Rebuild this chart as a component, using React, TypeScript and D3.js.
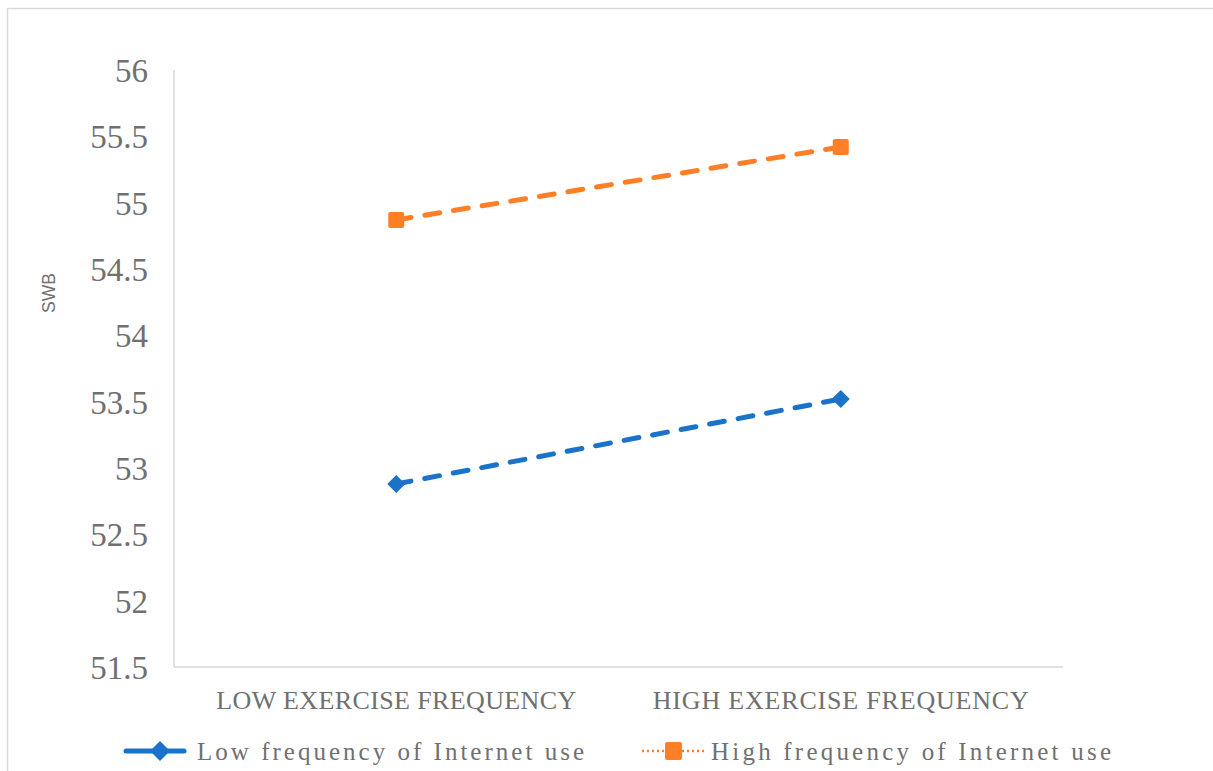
import React from "react";
import * as d3 from "d3";

const categories = ["LOW EXERCISE FREQUENCY", "HIGH EXERCISE FREQUENCY"];
const lowInternet = [52.88, 53.52];
const highInternet = [54.87, 55.42];
const yTicks = [51.5, 52, 52.5, 53, 53.5, 54, 54.5, 55, 55.5, 56];
const tickLabels = ["51.5", "52", "52.5", "53", "53.5", "54", "54.5", "55", "55.5", "56"];
const seriesNames = ["Low frequency of Internet use", "High frequency of Internet use"];

const W = 1213;
const H = 771;
const left = 174;
const right = 1063;
const top = 70;
const bottom = 667;

const BLUE = "#1a72c9";
const ORANGE = "#ff7f27";
const GRAY = "#707070";
const FONT = "'Liberation Serif', 'DejaVu Serif', serif";

export default function App() {
  const x = d3.scaleBand<string>().domain(categories).range([left, right]);
  const y = d3.scaleLinear().domain([51.5, 56]).range([bottom, top]);
  const cx = (c: string) => (x(c) as number) + x.bandwidth() / 2;

  const line = d3
    .line<number>()
    .x((_, i) => cx(categories[i]))
    .y((d) => y(d));

  const diamond = (px: number, py: number, r: number) =>
    `M${px - r},${py} L${px},${py - r} L${px + r},${py} L${px},${py + r} Z`;

  const xLabelLens = [360, 376];

  return (
    <svg
      width={W}
      height={H}
      style={{ position: "absolute", left: 0, top: 0, background: "#fff" }}
    >
      <rect x={0} y={0} width={W} height={H} fill="#fff" />
      {/* outer chart border */}
      <rect x={7.5} y={8.5} width={W + 10} height={H + 10} fill="none" stroke="#d9d9d9" strokeWidth={1.5} />

      {/* axes */}
      <line x1={left} y1={top} x2={left} y2={bottom} stroke="#d9d9d9" strokeWidth={1.5} />
      <line x1={left} y1={bottom} x2={right} y2={bottom} stroke="#d9d9d9" strokeWidth={1.5} />

      {/* y tick labels */}
      {yTicks.map((t, i) => (
        <text
          key={t}
          x={148}
          y={y(t)}
          dy="0.36em"
          textAnchor="end"
          fontFamily={FONT}
          fontSize={33}
          fill={GRAY}
        >
          {tickLabels[i]}
        </text>
      ))}

      {/* y axis title */}
      <text
        transform={`translate(55,293) rotate(-90)`}
        textAnchor="middle"
        fontFamily="'Liberation Sans', Arial, sans-serif"
        fontSize={19}
        fill={GRAY}
        textLength={40}
        lengthAdjust="spacingAndGlyphs"
      >
        SWB
      </text>

      {/* x labels */}
      {categories.map((c, i) => (
        <text
          key={c}
          x={cx(c)}
          y={709}
          textAnchor="middle"
          fontFamily={FONT}
          fontSize={26}
          fill={GRAY}
          textLength={xLabelLens[i]}
          lengthAdjust="spacing"
        >
          {c}
        </text>
      ))}

      {/* series lines */}
      <path
        d={line(highInternet) as string}
        fill="none"
        stroke={ORANGE}
        strokeWidth={5}
        strokeDasharray="15,14"
        strokeLinecap="round"
      />
      <path
        d={line(lowInternet) as string}
        fill="none"
        stroke={BLUE}
        strokeWidth={5}
        strokeDasharray="15,14"
        strokeLinecap="round"
      />

      {/* markers */}
      {highInternet.map((v, i) => (
        <rect
          key={"h" + i}
          x={cx(categories[i]) - 8}
          y={y(v) - 8}
          width={16}
          height={16}
          rx={2}
          fill={ORANGE}
        />
      ))}
      {lowInternet.map((v, i) => (
        <path key={"l" + i} d={diamond(cx(categories[i]), y(v), 9)} fill={BLUE} />
      ))}

      {/* legend */}
      <line x1={126} y1={751} x2={184} y2={751} stroke={BLUE} strokeWidth={5} strokeLinecap="round" />
      <path d={diamond(160, 751, 10)} fill={BLUE} />
      <text
        x={197}
        y={760}
        fontFamily={FONT}
        fontSize={25}
        fill={GRAY}
        textLength={387}
        lengthAdjust="spacing"
      >
        {seriesNames[0]}
      </text>

      <line x1={642} y1={751} x2={705} y2={751} stroke={ORANGE} strokeWidth={2.5} strokeDasharray="2,3" />
      <rect x={665} y={742} width={17} height={18} rx={2} fill={ORANGE} />
      <text
        x={711}
        y={760}
        fontFamily={FONT}
        fontSize={25}
        fill={GRAY}
        textLength={400}
        lengthAdjust="spacing"
      >
        {seriesNames[1]}
      </text>
    </svg>
  );
}
